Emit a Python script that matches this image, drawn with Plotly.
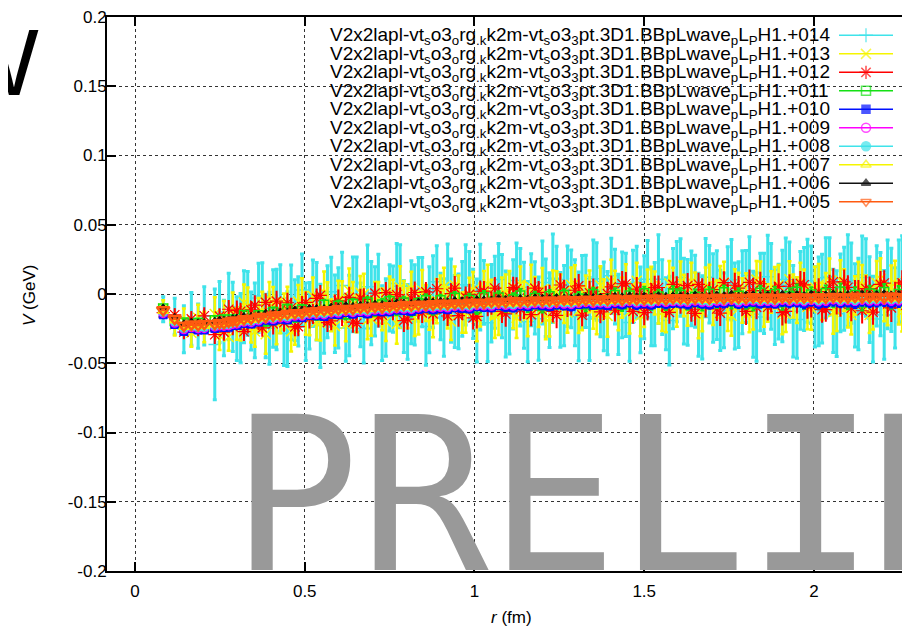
import plotly.graph_objects as go

# ---------------- data ----------------
R = [
    0.083, 0.117, 0.144, 0.166, 0.186, 0.204, 0.235, 0.249, 0.262, 0.276, 0.288, 0.300,
    0.321, 0.342, 0.364, 0.385, 0.407, 0.428, 0.449, 0.471, 0.492, 0.514,
    0.535, 0.557, 0.578, 0.599, 0.621, 0.642, 0.664, 0.685, 0.707, 0.728,
    0.750, 0.771, 0.792, 0.814, 0.835, 0.857, 0.878, 0.900, 0.921, 0.942,
    0.964, 0.985, 1.007, 1.028, 1.050, 1.071, 1.092, 1.114, 1.135, 1.157,
    1.178, 1.200, 1.221, 1.242, 1.264, 1.285, 1.307, 1.328, 1.350, 1.371,
    1.392, 1.414, 1.435, 1.457, 1.478, 1.500, 1.521, 1.542, 1.564, 1.585,
    1.607, 1.628, 1.650, 1.671, 1.692, 1.714, 1.735, 1.757, 1.778, 1.800,
    1.821, 1.842, 1.864, 1.885, 1.907, 1.928, 1.950, 1.971, 1.992, 2.014,
    2.035, 2.057, 2.078, 2.100, 2.121, 2.142, 2.164, 2.185, 2.207, 2.228,
    2.250, 2.271]

# common trend of the band, in units of 1e-4 GeV
BASE = [
    -115, -180, -225, -220, -222, -218, -214, -210, -205, -200, -195, -190,
    -182, -175, -168, -161, -155, -149, -143, -137, -132, -127,
    -122, -118, -114, -110, -106, -103, -100, -97, -94, -91,
    -88, -85, -82, -80, -77, -75, -73, -71, -69, -67,
    -65, -63, -61, -59, -57, -56, -54, -53, -51, -50,
    -48, -47, -46, -45, -44, -43, -42, -41, -40, -39,
    -38, -37, -36, -36, -35, -34, -33, -33, -32, -31,
    -31, -30, -30, -29, -29, -28, -28, -27, -27, -26,
    -26, -26, -25, -25, -25, -24, -24, -24, -23, -23,
    -23, -22, -22, -22, -22, -21, -21, -21, -21, -20,
    -20, -20]

# extra radii where only the three noisiest series are plotted
R_EXTRA = [
    0.311, 0.332, 0.353, 0.375, 0.396, 0.417, 0.439, 0.460, 0.481, 0.503,
    0.524, 0.546, 0.567, 0.589, 0.610, 0.631, 0.653, 0.674, 0.696, 0.717,
    0.739, 0.760, 0.781, 0.803, 0.824, 0.846, 0.867, 0.889, 0.910, 0.931,
    0.953, 0.974, 0.996, 1.017, 1.039, 1.060, 1.081, 1.103, 1.124, 1.146,
    1.167, 1.189, 1.210, 1.231, 1.253, 1.274, 1.296, 1.317, 1.339, 1.360,
    1.381, 1.403, 1.424, 1.446, 1.467, 1.489, 1.510, 1.531, 1.553, 1.574,
    1.596, 1.617, 1.639, 1.660, 1.681, 1.703, 1.724, 1.746, 1.767, 1.789,
    1.810, 1.831, 1.853, 1.874, 1.896, 1.917, 1.939, 1.960, 1.981, 2.003,
    2.024, 2.046, 2.067, 2.089, 2.110, 2.131, 2.153, 2.174, 2.196, 2.217,
    2.239, 2.260, 2.281]
BASE_EXTRA = [
    -186, -178, -171, -164, -158, -152, -146, -140, -135, -130,
    -125, -120, -116, -112, -108, -105, -102, -99, -96, -93,
    -90, -87, -84, -81, -79, -76, -74, -72, -70, -68,
    -66, -64, -62, -60, -58, -57, -55, -54, -52, -51,
    -49, -48, -47, -46, -45, -44, -43, -42, -41, -40,
    -39, -38, -37, -36, -35, -35, -34, -33, -32, -32,
    -31, -31, -30, -30, -29, -29, -28, -28, -27, -27,
    -26, -26, -26, -25, -25, -25, -24, -24, -24, -23,
    -23, -23, -22, -22, -22, -22, -21, -21, -21, -21,
    -20, -20, -20]

# per-series offsets from the trend and error bars, units of 1e-4 GeV
DEV_014 = [
    5, 20, -30, 40, -10, 60, -150, 80, -40, 110, 30, -60,
    90, -20, 140, -70, 50, 120, -110, 20, 160, -30,
    70, -90, 130, 10, -140, 100, -50, 150, 40, -120,
    60, 160, -80, 20, 110, -160, 90, -20, 140, -60,
    30, 120, -130, 70, -10, 160, -90, 50, 100, -150,
    20, 130, -70, 150, -40, 80, -120, 60, 150, -20,
    -100, 90, 30, -170, 120, 10, -60, 140, -110, 70,
    150, -30, 50, -140, 100, 20, -90, 130, -50, 80,
    -120, 40, 150, -70, 10, 110, -160, 60, 90, -30,
    140, -100, 30, 120, -60, 160, -20, 80, -130, 50,
    110, -40]
ERR_014 = [
    90, 130, 170, 190, 160, 210, 400, 220, 200, 240, 250, 230,
    260, 210, 250, 230, 280, 240, 270, 220, 260, 240,
    280, 220, 250, 290, 240, 270, 230, 300, 250, 270,
    240, 290, 260, 300, 230, 280, 260, 240, 290, 260,
    270, 250, 300, 230, 280, 260, 310, 250, 280, 290,
    260, 300, 270, 240, 290, 280, 320, 260, 280, 250,
    300, 270, 310, 280, 260, 300, 280, 320, 260, 290,
    280, 310, 260, 300, 280, 320, 270, 290, 310, 260,
    310, 280, 300, 270, 330, 290, 280, 300, 280, 320,
    290, 300, 280, 330, 300, 280, 310, 290, 320, 300,
    300, 330]
DEV_014B = [
    -60, 110, -20, 150, -90, 40, -140, 80, 10, -70,
    130, -110, 60, -30, 170, -50, 100, -150, 30, 120,
    -80, 50, 140, -120, 0, 90, -40, 160, -100, 20,
    -60, 130, -10, 110, -150, 70, 40, -90, 150, -30,
    80, -130, 20, 160, -70, 100, -20, 60, -140, 130,
    -50, 170, -110, 30, 90, -80, 140, -40, 10, -160,
    120, -20, 70, -120, 150, 0, -90, 110, -60, 40,
    160, -140, 30, 80, -30, 130, -100, 50, 120, -70,
    -10, 150, -120, 60, 100, -50, 140, -160, 20, 90,
    -80, 130, -30]
ERR_014B = [
    250, 230, 270, 240, 260, 290, 230, 270, 250, 280,
    240, 300, 260, 280, 240, 290, 270, 250, 300, 260,
    280, 240, 300, 270, 290, 250, 310, 260, 280, 300,
    270, 290, 250, 310, 280, 260, 300, 290, 270, 310,
    260, 300, 280, 320, 270, 290, 310, 260, 300, 280,
    320, 270, 290, 300, 260, 310, 280, 300, 270, 320,
    290, 310, 270, 300, 280, 320, 290, 260, 310, 300,
    280, 320, 290, 310, 270, 300, 330, 280, 300, 290,
    320, 280, 310, 300, 290, 330, 280, 310, 300, 320,
    290, 310, 330]

DEV_013 = [
    10, -40, 30, -60, 50, -20, 70, -90, 40, -110, 80, -30,
    120, -70, 20, -130, 90, -10, 60, -120, 100, -50,
    -80, 130, -40, 70, -110, 30, 110, -90, 50, -20,
    90, -130, 40, 120, -60, 10, -100, 80, -30, 130,
    -70, 50, -120, 100, 20, -90, 60, -40, 120, -110,
    30, 80, -130, 60, -20, 110, -80, 40, -60, 100,
    -120, 70, 10, -90, 130, -50, 90, -30, -110, 60,
    120, -70, 30, -100, 80, -10, 110, -130, 50, 20,
    -90, 100, -40, 70, -120, 130, -20, 60, -80, 90,
    40, -110, 120, -60, 10, 80, -130, 100, -30, 70,
    -50, 110]
ERR_013 = [
    60, 80, 90, 100, 95, 110, 120, 105, 115, 100, 125, 110,
    130, 105, 120, 140, 115, 125, 135, 110, 145, 120,
    130, 150, 115, 135, 125, 160, 120, 140, 130, 150,
    125, 145, 135, 120, 155, 130, 140, 125, 150, 135,
    145, 130, 160, 125, 140, 150, 135, 155, 130, 145,
    140, 155, 130, 150, 145, 125, 160, 135, 150, 140,
    150, 135, 145, 160, 130, 155, 140, 150, 135, 160,
    145, 130, 155, 140, 160, 135, 150, 145, 130, 155,
    140, 160, 135, 150, 145, 130, 165, 140, 155, 150,
    135, 155, 145, 160, 140, 150, 130, 160, 145, 155,
    150, 140]
DEV_013B = [
    -30, 90, -100, 40, 120, -60, 20, -130, 80, -10,
    110, -90, 50, -120, 70, 130, -40, 100, -80, 30,
    -110, 60, 130, -20, -90, 100, -60, 20, 120, -130,
    50, -70, 90, -20, 130, -100, 40, 70, -120, 10,
    100, -50, -130, 80, 30, -90, 120, -60, 60, -110,
    10, 130, -80, 90, -30, -120, 70, 40, -100, 110,
    -60, 20, 120, -130, 80, -40, 100, -90, 60, -20,
    -110, 130, -50, 40, 90, -120, 10, 110, -70, 70,
    -30, 120, -100, 50, -130, 90, 20, -80, 130, -60,
    100, -110, 30]
ERR_013B = [
    120, 135, 110, 140, 125, 150, 130, 145, 120, 155,
    135, 125, 150, 140, 130, 160, 135, 145, 125, 150,
    140, 130, 155, 145, 135, 150, 125, 160, 140, 135,
    150, 145, 130, 155, 140, 160, 135, 150, 145, 130,
    160, 140, 150, 135, 155, 145, 130, 160, 150, 140,
    135, 155, 145, 160, 130, 150, 140, 155, 135, 160,
    145, 150, 135, 160, 140, 155, 130, 150, 145, 160,
    140, 135, 160, 150, 145, 130, 155, 140, 160, 150,
    135, 160, 145, 150, 140, 165, 135, 155, 150, 145,
    160, 140, 155]

DEV_012 = [
    -20, 30, -50, 40, -30, 60, -80, 50, -70, 90, -40, 70,
    -90, 60, -20, 100, -60, 30, 80, -100, 40, -50,
    90, -30, -80, 60, 20, -100, 70, -40, 100, -60,
    30, 80, -110, 50, -20, 90, -70, 10, -90, 110,
    -40, 60, -100, 80, -10, 40, -90, 100, -60, 20,
    90, -70, 30, -110, 70, -30, 100, -50, 60, -90,
    40, -80, 110, -20, 70, -100, 30, 80, -60, 100,
    -30, 90, -110, 60, 20, -80, 110, -40, 70, -100,
    50, 100, -70, 30, -110, 80, -20, 90, -60, 40,
    -90, 110, -50, 70, 20, -100, 60, -30, 100, -80,
    30, -60]
ERR_012 = [
    30, 40, 45, 50, 45, 55, 60, 50, 55, 60, 55, 65,
    60, 55, 65, 60, 70, 55, 65, 60, 70, 65,
    65, 70, 60, 75, 65, 70, 60, 75, 70, 65,
    70, 65, 75, 70, 80, 65, 70, 75, 65, 80,
    75, 70, 80, 65, 75, 70, 85, 70, 75, 80,
    70, 80, 75, 85, 70, 75, 80, 70, 85, 75,
    80, 75, 85, 70, 80, 85, 75, 80, 70, 85,
    75, 85, 80, 75, 90, 80, 75, 85, 80, 90,
    85, 80, 90, 75, 85, 80, 90, 85, 80, 90,
    80, 90, 85, 80, 95, 85, 80, 90, 85, 95,
    90, 85]
DEV_012B = [
    60, -40, 90, -80, 20, 100, -60, 40, -100, 70,
    -20, 110, -90, 30, -50, 80, -110, 60, 10, -70,
    100, -30, 50, -100, 90, -60, 20, 110, -40, 70,
    -90, 40, -110, 80, -20, 100, -70, 30, 90, -50,
    -100, 60, 20, -80, 110, -40, 70, -110, 50, 10,
    -60, 90, -30, 110, -90, 40, -70, 80, -10, -100,
    70, 30, -80, 100, -50, 60, -110, 20, 90, -40,
    110, -70, 50, -20, 80, -100, 40, 100, -60, 20,
    -90, 70, -30, 110, -80, 30, 60, -110, 90, -50,
    10, 100, -70]
ERR_012B = [
    55, 60, 65, 58, 62, 68, 60, 66, 63, 70,
    65, 68, 62, 72, 66, 70, 64, 74, 68, 71,
    70, 66, 75, 69, 72, 67, 76, 70, 73, 68,
    74, 71, 77, 70, 75, 72, 78, 71, 76, 73,
    77, 74, 79, 72, 78, 75, 80, 73, 79, 76,
    81, 74, 80, 77, 82, 75, 81, 78, 83, 76,
    82, 79, 84, 77, 83, 80, 85, 78, 84, 81,
    86, 79, 85, 82, 87, 80, 86, 83, 88, 81,
    87, 84, 89, 82, 88, 85, 90, 83, 89, 86,
    91, 84, 90]

DEV_011 = [
    10, -15, 20, -10, 15, -20, 25, -15, 20, -25, 10, -20,
    30, -25, 15, -35, 25, -10, 35, -30, 20, -15,
    -30, 40, -20, 25, -40, 30, -10, 35, -25, 15,
    35, -30, 20, -40, 10, 30, -35, 25, -15, 40,
    -25, 20, -40, 35, -10, 30, -30, 15, 40, -35,
    20, -40, 30, -15, 35, -25, 10, -35, 40, -20,
    -10, 30, -40, 25, -20, 40, -30, 15, -35, 35,
    25, -35, 10, -40, 30, -20, 40, -25, 15, -30,
    -40, 35, -15, 25, -35, 10, 40, -30, 20, -25,
    30, -20, 40, -35, 15, -40, 25, -10, 35, -30,
    20, -35]
ERR_011 = [
    15, 20, 22, 25, 24, 26, 28, 27, 29, 28, 30, 29,
    30, 32, 31, 33, 32, 34, 33, 35, 34, 36,
    35, 37, 36, 38, 37, 39, 38, 40, 39, 41,
    40, 38, 42, 41, 39, 43, 42, 40, 44, 42,
    41, 44, 43, 45, 42, 46, 44, 43, 47, 45,
    44, 46, 45, 48, 44, 47, 46, 49, 45, 48,
    47, 49, 46, 50, 48, 47, 51, 49, 48, 52,
    50, 48, 52, 51, 49, 53, 50, 52, 54, 51,
    53, 51, 55, 52, 54, 56, 53, 55, 52, 57,
    55, 53, 57, 54, 56, 58, 55, 57, 59, 56,
    58, 60]

DEV_010 = [
    -35, -40, -45, -30, -38, -42, -34, -28, -36, -40, -32, -38,
    -30, -42, -35, -28, -40, -33, -45, -30, -38, -27,
    -36, -44, -31, -39, -28, -42, -34, -46, -30, -37,
    -41, -29, -38, -45, -33, -27, -40, -35, -43, -31,
    -38, -44, -30, -36, -42, -28, -39, -47, -33, -40,
    -29, -37, -43, -32, -40, -46, -34, -28, -41, -36,
    -44, -31, -38, -27, -42, -35, -45, -30, -39, -33,
    -36, -43, -29, -40, -47, -32, -38, -26, -44, -35,
    -30, -41, -37, -45, -28, -39, -34, -43, -31, -46,
    -38, -27, -42, -35, -44, -30, -40, -36, -29, -43,
    -37, -32]
ERR_010 = [
    10, 12, 14, 15, 14, 16, 17, 16, 18, 17, 18, 19,
    18, 20, 19, 21, 20, 22, 21, 20, 23, 22,
    21, 23, 22, 24, 23, 22, 25, 24, 23, 25,
    24, 26, 25, 23, 27, 25, 26, 24, 27, 26,
    25, 27, 26, 28, 25, 27, 29, 26, 28, 27,
    28, 26, 29, 27, 28, 30, 27, 29, 28, 30,
    29, 27, 30, 28, 31, 29, 28, 30, 32, 29,
    30, 32, 29, 31, 30, 33, 31, 30, 32, 34,
    31, 33, 32, 30, 34, 32, 33, 35, 31, 34,
    33, 35, 32, 34, 36, 33, 35, 34, 37, 35,
    36, 34]

DEV_009 = [
    -25, -30, -32, -22, -28, -31, -24, -20, -27, -29, -23, -26,
    -21, -30, -26, -19, -28, -24, -32, -22, -27, -20,
    -26, -31, -23, -28, -20, -30, -25, -33, -22, -27,
    -29, -21, -27, -32, -24, -19, -28, -25, -31, -23,
    -27, -31, -22, -26, -30, -20, -28, -33, -24, -29,
    -21, -26, -30, -23, -29, -32, -25, -20, -28, -26,
    -31, -22, -27, -19, -30, -25, -32, -21, -28, -24,
    -26, -30, -20, -29, -33, -23, -27, -18, -31, -25,
    -22, -29, -26, -32, -20, -28, -24, -30, -23, -33,
    -27, -19, -30, -25, -31, -22, -28, -26, -21, -30,
    -26, -23]
ERR_009 = [
    8, 10, 11, 12, 11, 13, 14, 13, 14, 13, 15, 14,
    15, 14, 16, 15, 17, 16, 15, 17, 16, 18,
    17, 16, 18, 17, 19, 18, 17, 19, 18, 20,
    19, 18, 20, 19, 18, 21, 20, 19, 21, 20,
    21, 20, 22, 21, 20, 22, 21, 23, 22, 21,
    22, 21, 23, 22, 24, 23, 22, 24, 23, 22,
    24, 23, 25, 24, 23, 25, 24, 26, 25, 24,
    25, 24, 26, 25, 27, 26, 25, 27, 26, 28,
    27, 26, 28, 27, 26, 28, 27, 29, 28, 27,
    29, 28, 30, 29, 28, 30, 29, 31, 30, 29,
    31, 30]

DEV_008 = [
    -18, -22, -24, -15, -20, -23, -16, -13, -19, -21, -15, -18,
    -14, -22, -18, -12, -20, -16, -23, -14, -19, -13,
    -18, -23, -15, -20, -12, -22, -17, -24, -14, -19,
    -21, -13, -19, -24, -16, -11, -20, -17, -23, -15,
    -19, -23, -14, -18, -22, -12, -20, -25, -16, -21,
    -13, -18, -22, -15, -21, -24, -17, -12, -20, -18,
    -23, -14, -19, -11, -22, -17, -24, -13, -20, -16,
    -18, -22, -12, -21, -25, -15, -19, -10, -23, -17,
    -14, -21, -18, -24, -12, -20, -16, -22, -15, -25,
    -19, -11, -22, -17, -23, -14, -20, -18, -13, -22,
    -18, -15]
ERR_008 = [
    6, 8, 9, 10, 9, 11, 12, 11, 12, 11, 12, 13,
    12, 13, 12, 14, 13, 14, 13, 15, 14, 13,
    15, 14, 15, 16, 15, 14, 16, 15, 17, 16,
    16, 15, 17, 16, 18, 17, 16, 18, 17, 16,
    18, 17, 19, 18, 17, 19, 18, 20, 19, 18,
    19, 18, 20, 19, 21, 20, 19, 21, 20, 19,
    21, 20, 22, 21, 20, 22, 21, 23, 22, 21,
    22, 21, 23, 22, 24, 23, 22, 24, 23, 22,
    24, 23, 25, 24, 23, 25, 24, 26, 25, 24,
    25, 24, 26, 25, 27, 26, 25, 27, 26, 25,
    27, 26]

DEV_007 = [
    -8, -12, -14, -5, -10, -13, -6, -3, -9, -11, -5, -8,
    -4, -12, -8, -2, -10, -6, -13, -4, -9, -3,
    -8, -13, -5, -10, -2, -12, -7, -14, -4, -9,
    -11, -3, -9, -14, -6, -1, -10, -7, -13, -5,
    -9, -13, -4, -8, -12, -2, -10, -15, -6, -11,
    -3, -8, -12, -5, -11, -14, -7, -2, -10, -8,
    -13, -4, -9, -1, -12, -7, -14, -3, -10, -6,
    -8, -12, -2, -11, -15, -5, -9, 0, -13, -7,
    -4, -11, -8, -14, -2, -10, -6, -12, -5, -15,
    -9, -1, -12, -7, -13, -4, -10, -8, -3, -12,
    -8, -5]
ERR_007 = [
    5, 6, 7, 8, 7, 8, 9, 8, 9, 9, 10, 9,
    10, 9, 10, 11, 10, 11, 10, 12, 11, 10,
    11, 12, 11, 12, 13, 12, 11, 13, 12, 13,
    12, 13, 12, 14, 13, 12, 14, 13, 14, 13,
    14, 13, 15, 14, 13, 15, 14, 15, 14, 16,
    15, 14, 16, 15, 14, 16, 15, 17, 16, 15,
    16, 15, 17, 16, 15, 17, 16, 18, 17, 16,
    17, 16, 18, 17, 19, 18, 17, 19, 18, 17,
    18, 17, 19, 18, 20, 19, 18, 20, 19, 18,
    19, 18, 20, 19, 21, 20, 19, 21, 20, 19,
    21, 20]

DEV_006 = [
    15, 12, 10, 18, 14, 11, 17, 20, 15, 13, 19, 16,
    20, 14, 17, 22, 15, 19, 12, 21, 16, 23,
    17, 13, 20, 15, 22, 14, 18, 12, 21, 16,
    14, 21, 16, 12, 19, 23, 15, 18, 13, 20,
    16, 12, 21, 17, 14, 22, 15, 11, 19, 14,
    21, 17, 13, 20, 14, 12, 18, 23, 15, 17,
    12, 20, 16, 23, 13, 18, 11, 21, 15, 19,
    17, 13, 22, 14, 11, 20, 16, 24, 12, 18,
    20, 14, 17, 12, 22, 15, 19, 13, 21, 11,
    16, 23, 13, 18, 12, 20, 15, 17, 22, 13,
    17, 20]
ERR_006 = [
    4, 5, 5, 6, 6, 6, 7, 6, 7, 7, 7, 8,
    7, 8, 8, 7, 8, 9, 8, 8, 9, 8,
    9, 8, 9, 9, 10, 9, 8, 10, 9, 10,
    9, 10, 10, 9, 11, 10, 9, 10, 11, 10,
    10, 11, 10, 11, 10, 12, 11, 10, 11, 12,
    11, 12, 11, 12, 11, 13, 12, 11, 12, 13,
    12, 13, 12, 11, 13, 12, 13, 14, 12, 13,
    13, 12, 14, 13, 12, 14, 13, 14, 13, 15,
    14, 13, 14, 15, 13, 14, 15, 14, 16, 14,
    15, 14, 16, 15, 14, 16, 15, 17, 15, 16,
    16, 15]

DEV_005 = [
    0, 2, -3, 1, -2, 3, -1, 2, -4, 1, 3, -2,
    2, -1, 4, -3, 1, -2, 3, 0, -4, 2,
    -1, 3, -2, 4, 0, -3, 2, -1, 3, -4,
    1, -2, 4, -1, 2, -3, 0, 3, -2, 1,
    -3, 2, 0, -4, 3, 1, -2, 4, -1, 2,
    3, -2, 1, -3, 4, 0, -1, 2, -4, 3,
    -1, 4, -3, 2, 0, -2, 3, 1, -4, 2,
    2, -3, 1, 4, -1, 3, -2, 0, 2, -3,
    4, -1, 2, -3, 1, -4, 3, 0, -2, 1,
    -2, 3, 0, -1, 4, -3, 2, 1, -4, 3,
    0, -2]
ERR_005 = [
    3, 3, 4, 4, 4, 5, 5, 5, 5, 5, 6, 5,
    6, 5, 6, 6, 6, 7, 6, 6, 7, 6,
    7, 6, 7, 7, 7, 8, 7, 7, 8, 7,
    8, 7, 8, 8, 7, 8, 8, 9, 8, 8,
    9, 8, 8, 9, 8, 9, 9, 8, 9, 10,
    9, 9, 10, 9, 10, 9, 10, 10, 9, 10,
    10, 11, 10, 10, 11, 10, 11, 10, 11, 11,
    11, 10, 11, 12, 11, 11, 12, 11, 12, 11,
    12, 11, 12, 12, 13, 12, 12, 13, 12, 13,
    13, 12, 13, 13, 12, 14, 13, 13, 14, 13,
    14, 13]

SERIES_TAGS = ["+014", "+013", "+012", "+011", "+010", "+009", "+008", "+007", "+006", "+005"]
DEVS = [DEV_014, DEV_013, DEV_012, DEV_011, DEV_010, DEV_009, DEV_008, DEV_007, DEV_006, DEV_005]
ERRS = [ERR_014, ERR_013, ERR_012, ERR_011, ERR_010, ERR_009, ERR_008, ERR_007, ERR_006, ERR_005]
DEVS_EXTRA = {0: DEV_014B, 1: DEV_013B, 2: DEV_012B}
ERRS_EXTRA = {0: ERR_014B, 1: ERR_013B, 2: ERR_012B}

X_TICKS = [0, 0.5, 1, 1.5, 2]
X_TICK_LABELS = ["0", "0.5", "1", "1.5", "2"]
Y_TICKS = [-0.2, -0.15, -0.1, -0.05, 0, 0.05, 0.1, 0.15, 0.2]
Y_TICK_LABELS = ["-0.2", "-0.15", "-0.1", "-0.05", "0", "0.05", "0.1", "0.15", "0.2"]

LABEL_PREFIX = ("V2x2lapl-vt<sub>s</sub>o3<sub>o</sub>rg<sub>.k</sub>k2m-vt<sub>s</sub>o3<sub>3</sub>"
                "pt.3D1.BBpLwave<sub>p</sub>L<sub>P</sub>H1.")

# ---------------- styles ----------------
COLORS = ["#3fe3ea", "#f5f500", "#ff0000", "#14e014", "#0010ff",
          "#ff00ff", "#3fe3ea", "#f5f500", "#111111", "#ff5a10"]
SYMBOLS = ["cross-thin-open", "x-thin-open", "asterisk-open", "square-open", "square",
           "circle-open", "circle", "triangle-up-open", "triangle-up", "triangle-down-open"]
MSIZE = [9, 10, 11, 9, 8, 8, 8, 9, 8, 11]
MLINE = [1.5, 1.5, 1.2, 1.5, 1, 1.5, 1, 1.5, 1, 2.5]
ETHICK = [3, 2.5, 2, 2, 2, 1.5, 1.5, 1.5, 1.5, 2]
ECAP = [2, 2, 1, 2, 2, 2, 2, 2, 2, 2]
KEY_MSIZE = [10, 10, 11, 9, 8, 9, 9, 9, 8, 9]

FONT = "Liberation Sans, Arial, Helvetica, sans-serif"

# The page puts the figure 8 px in from the top-left corner; the figure is
# laid out so the picture lines up with the reference in window pixels.
OFF = 8
W, H = 910 - OFF, 631 - OFF
L_PX, R_PX, T_PX, B_PX = 107, 910, 13, 571   # plot area, window pixels


def px_to_paper_x(px):
    return (px - L_PX) / (R_PX - L_PX)


def px_to_paper_y(py):
    return (B_PX - py) / (B_PX - T_PX)


fig = go.Figure()

for i, tag in enumerate(SERIES_TAGS):
    xs = list(R)
    v = [(b + d) / 1e4 for b, d in zip(BASE, DEVS[i])]
    e = [x / 1e4 for x in ERRS[i]]
    if i in DEVS_EXTRA:
        xs += R_EXTRA
        v += [(b + d) / 1e4 for b, d in zip(BASE_EXTRA, DEVS_EXTRA[i])]
        e += [x / 1e4 for x in ERRS_EXTRA[i]]
    fig.add_trace(go.Scatter(
        x=xs, y=v, mode="markers", name=tag, showlegend=False,
        marker=dict(symbol=SYMBOLS[i], size=MSIZE[i], color=COLORS[i],
                    line=dict(color=COLORS[i], width=MLINE[i])),
        error_y=dict(type="data", array=e, visible=True, color=COLORS[i],
                     thickness=ETHICK[i], width=ECAP[i]),
        hoverinfo="skip",
    ))

# manual key (text left, sample on the right, like gnuplot)
row0, row_step = 31.5, 18.62
ann = []
for i, tag in enumerate(SERIES_TAGS):
    ypx = row0 + i * row_step
    yrow = px_to_paper_y(ypx)
    fig.add_trace(go.Scatter(
        x=[px_to_paper_x(839), px_to_paper_x(866), px_to_paper_x(893)],
        y=[yrow, yrow, yrow], xaxis="x2", yaxis="y2",
        mode="lines+markers", showlegend=False, hoverinfo="skip",
        line=dict(color=COLORS[i], width=1.5),
        marker=dict(symbol=SYMBOLS[i], size=[0, KEY_MSIZE[i], 0], color=COLORS[i],
                    line=dict(color=COLORS[i], width=1.5)),
    ))
    ann.append(dict(
        x=px_to_paper_x(328), y=px_to_paper_y(ypx + 1), xref="paper", yref="paper",
        xanchor="left", yanchor="middle", showarrow=False,
        text=LABEL_PREFIX + tag, font=dict(family=FONT, size=19, color="black"),
    ))

# axis titles
ann.append(dict(x=px_to_paper_x(511), y=px_to_paper_y(618), xref="paper", yref="paper",
                showarrow=False, text="<i>r</i> (fm)", xanchor="center", yanchor="middle",
                font=dict(family=FONT, size=17, color="black")))
ann.append(dict(x=px_to_paper_x(30), y=px_to_paper_y(294), xref="paper", yref="paper",
                showarrow=False, text="<i>V</i> (GeV)", textangle=-90,
                xanchor="center", yanchor="middle",
                font=dict(family=FONT, size=17, color="black")))
# large letter cut by the left edge
ann.append(dict(x=px_to_paper_x(41), y=px_to_paper_y(59), xref="paper", yref="paper",
                showarrow=False, text="W", xanchor="right", yanchor="middle",
                font=dict(family=FONT, size=94, color="black")))
# watermark
ann.append(dict(x=px_to_paper_x(229), y=px_to_paper_y(495), xref="paper", yref="paper",
                showarrow=False, text="PRELIMINARY", xanchor="left", yanchor="middle",
                font=dict(family="DejaVu Sans Mono", size=214, color="#999999")))

axis_common = dict(
    showline=True, linewidth=2, linecolor="black",
    ticks="inside", ticklen=9, tickwidth=2, tickcolor="black",
    showgrid=True, gridcolor="#333333", griddash="dot", gridwidth=1,
    zeroline=False, tickfont=dict(family=FONT, size=17, color="black"),
    ticklabeloverflow="allow",
)

fig.update_layout(
    width=W, height=H,
    margin=dict(l=L_PX - OFF, r=0, t=T_PX - OFF, b=H - (B_PX - OFF)),
    paper_bgcolor="white", plot_bgcolor="white",
    xaxis=dict(range=[-0.0825, 2.283], tickvals=X_TICKS, ticktext=X_TICK_LABELS,
               mirror="ticks", ticklabelstandoff=4, **axis_common),
    yaxis=dict(range=[-0.2, 0.2], tickvals=Y_TICKS, ticktext=Y_TICK_LABELS,
               mirror=False, ticklabelstandoff=-5, **axis_common),
    xaxis2=dict(overlaying="x", range=[0, 1], visible=False, anchor="y2"),
    yaxis2=dict(overlaying="y", range=[0, 1], visible=False, anchor="x2"),
    shapes=[dict(type="rect", xref="paper", yref="paper",
                 x0=px_to_paper_x(245), x1=1.0, y0=px_to_paper_y(207), y1=1.0,
                 fillcolor="white", line=dict(width=0), layer="between")],
    annotations=ann,
    showlegend=False,
)

fig.write_html("out.html")
